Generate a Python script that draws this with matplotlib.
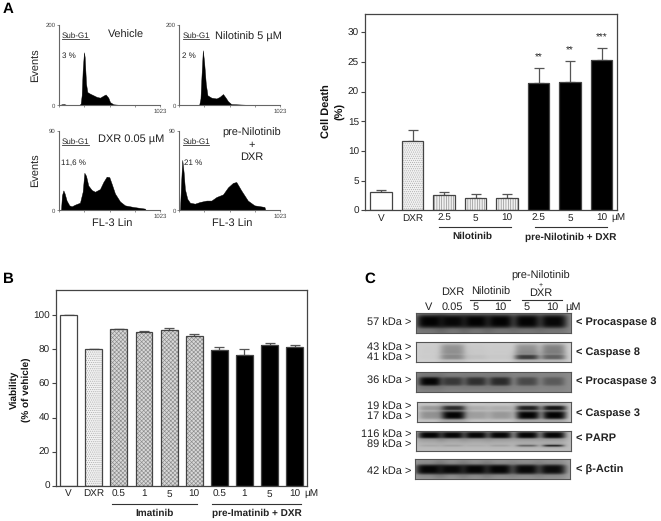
import matplotlib.pyplot as plt
import matplotlib as mpl
import numpy as np

mpl.rcParams['font.family'] = ['Liberation Sans', 'DejaVu Sans']
mpl.rcParams['hatch.linewidth'] = 0.45
mpl.rcParams['text.hinting'] = 'no_hinting'
mpl.rcParams['text.hinting_factor'] = 1

W, H = 661, 521

#-------------------------------------------------------------------------------
#PART 1: Data
#-------------------------------------------------------------------------------

#Flow cytometry histograms (FL-3 channel, events)
veh_ch = [0, 27, 50, 77, 205, 219, 229, 239, 252, 259, 273, 286, 313, 347, 380, 414, 448, 471, 498, 515, 549, 616, 750]
veh_ev = [0, 2.5, 3, 1, 1, 4, 25, 87, 132, 121, 54, 33, 29, 25, 21, 19, 24, 27, 19, 8, 2.5, 1, 0]
nil_ch = [202, 215, 225, 239, 252, 269, 286, 326, 377, 410, 444, 471, 495, 528, 579, 713]
nil_ev = [1, 17, 71, 137, 108, 54, 25, 19, 17, 21, 28, 19, 10, 3, 2.5, 1]
dxr_ch = [20, 30, 44, 57, 77, 104, 128, 162, 212, 239, 256, 273, 296, 330, 363, 414, 448, 481, 508, 532, 565, 616, 666, 750, 868, 878]
dxr_ev = [0, 17, 22.5, 19, 11, 5.6, 4.5, 6.4, 8.6, 21, 42.4, 39, 28, 23, 21, 24, 32, 38, 37.5, 30, 19, 10, 5.6, 3.8, 1.9, 0]
pre_ch = [7, 17, 30, 44, 57, 81, 108, 158, 209, 276, 326, 377, 444, 495, 545, 579, 629, 696, 763, 865, 875]
pre_ev = [0, 28, 57, 43, 24, 13, 8.6, 7.5, 9.4, 11, 11, 15, 18, 26, 31, 32, 22.5, 11, 5.6, 3.8, 0]

#Cell death bars
death_labels = ['V', 'DXR', '2.5', '5', '10', '2.5', '5', '10']
death_vals = [3.0, 11.7, 2.5, 2.1, 2.1, 21.4, 21.6, 25.3]
death_errs = [0.4, 1.8, 0.5, 0.6, 0.6, 2.5, 3.5, 2.0]
death_stars = ['', '', '', '', '', '**', '**', '***']

#Viability bars
viab_labels = ['V', 'DXR', '0.5', '1', '5', '10', '0.5', '1', '5', '10']
viab_vals = [100, 80, 92, 90.2, 91.5, 87.8, 79.7, 76.5, 82.7, 81.2]
viab_errs = [0, 0.4, 0.2, 0.8, 1.3, 1.5, 1.5, 4.0, 0.8, 1.1]

#Western blot band strengths per lane (0 = none, 1 = black)
lanes = [0.09, 0.235, 0.387, 0.543, 0.717, 0.887]
procasp8 = [0.98, 0.95, 0.98, 0.98, 0.97, 0.95]
casp8_up = [0.02, 0.30, 0.04, 0.03, 0.30, 0.38]
casp8_lo = [0.02, 0.30, 0.07, 0.04, 0.70, 0.50]
procasp3 = [0.97, 0.60, 0.66, 0.70, 0.48, 0.36]
casp3_up = [0.22, 0.75, 0.12, 0.12, 0.82, 0.88]
casp3_lo = [0.28, 0.98, 0.22, 0.25, 0.98, 0.98]
parp_up = [0.98, 0.97, 0.97, 0.97, 0.97, 0.97]
parp_lo = [0.08, 0.12, 0.06, 0.12, 0.45, 0.80]
actin = [0.97, 0.95, 0.97, 0.97, 0.95, 0.93]

#-------------------------------------------------------------------------------
#PART 2: Helpers (everything placed in reference pixels)
#-------------------------------------------------------------------------------

fig = plt.figure(figsize=(W / 100, H / 100), dpi=100)
fig.patch.set_facecolor('white')


def px_axes(left, top, right, bottom):
    return fig.add_axes([left / W, 1 - bottom / H, (right - left) / W, (bottom - top) / H])


def txt(x, y, s, size=7.5, weight='normal', ha='center', rot=0, color='#222222'):
    fig.text(x / W, 1 - y / H, s, fontsize=size, fontweight=weight, ha=ha,
             va='center', rotation=rot, color=color, linespacing=1.35)


def hline(x0, x1, y, color='#333333', lw=0.8):
    fig.add_artist(plt.Line2D([x0 / W, x1 / W], [1 - y / H, 1 - y / H], color=color, lw=lw))


def histogram(box, ch, ev, ymax):
    ax = px_axes(*box)
    ax.fill_between(ch, ev, color='black', lw=0.3)
    ax.set_xlim(0, 1023)
    ax.set_ylim(0, ymax)
    ax.patch.set_alpha(0)
    for side in ['top', 'right']:
        ax.spines[side].set_visible(False)
    for side in ['left', 'bottom']:
        ax.spines[side].set_color('#666666')
        ax.spines[side].set_linewidth(0.8)
    ax.set_xticks([0, 256, 512, 768, 1023], ['', '', '', '', '1023'])
    ax.set_yticks([0, ymax], ['0', str(ymax)])
    ax.tick_params(axis='both', length=1.5, width=0.5, color='#666666', labelsize=4.5,
                   labelcolor='#444444', pad=1)
    return ax


def bar_panel(box, labels, vals, errs, styles, ymax, yticks):
    ax = px_axes(*box)
    x = np.arange(len(vals))
    for xi, v, (fc, hatch, hc) in zip(x, vals, styles):
        ax.bar(xi, v, 0.67, color=fc, hatch=hatch, edgecolor=hc, lw=0, zorder=2)
        ax.bar(xi, v, 0.67, color='none', edgecolor='#444444', lw=0.9, zorder=3)
    ax.errorbar(x, vals, yerr=[np.zeros(len(errs)), errs], fmt='none', ecolor='#555555',
                elinewidth=0.9, capsize=3.8, capthick=0.9, zorder=1)
    ax.set_xlim(-0.5, len(vals) - 0.5)
    ax.set_ylim(0, ymax)
    ax.set_xticks(x, labels)
    ax.set_yticks(yticks)
    ax.tick_params(axis='x', length=0, labelsize=7, labelcolor='#222222', pad=2.5)
    ax.tick_params(axis='y', length=3, width=0.8, color='#444444', labelsize=7,
                   labelcolor='#222222', pad=1.5)
    for side in ax.spines:
        ax.spines[side].set_color('#444444')
        ax.spines[side].set_linewidth(0.9)
    return ax


def blot(box, bg, bands):
    ax = px_axes(*box)
    xx, yy = np.meshgrid(np.linspace(0, 1, 310), np.linspace(0, 1, 60))
    img = np.ones_like(xx)
    for cy, h, w, strengths in bands:
        for cx, s in zip(lanes, strengths):
            core = np.exp(-((xx - cx) / w) ** 4 - ((yy - cy) / h) ** 4)
            halo = np.exp(-((xx - cx) / (w * 1.15)) ** 4 - ((yy - cy) / (h * 1.9)) ** 2)
            img *= 1 - s * np.maximum(core, 0.3 * halo)
    ax.imshow(bg * img, cmap='gray', vmin=0, vmax=1, extent=(0, 1, 1, 0), aspect='auto',
              interpolation='bilinear')
    ax.set_xticks([])
    ax.set_yticks([])
    for side in ax.spines:
        ax.spines[side].set_color('#555555')
        ax.spines[side].set_linewidth(0.8)
    return ax


#-------------------------------------------------------------------------------
#PART 3: Panel A
#-------------------------------------------------------------------------------

histogram((59, 25, 160.3, 105.3), veh_ch, veh_ev, 200)
histogram((179.3, 25, 280, 105.3), nil_ch, nil_ev, 200)
histogram((59, 130.7, 160.3, 210.3), dxr_ch, dxr_ev, 90)
histogram((179.3, 130.7, 280, 210.3), pre_ch, pre_ev, 90)

txt(8, 9, 'A', 10.5, 'bold', color='black')
for x0, x1, y in [(62.3, 89, 39.3), (182.7, 209.3, 39.3), (62.3, 89, 145.3), (182.7, 209.3, 145.3)]:
    hline(x0, x1, y, lw=0.6)
    txt((x0 + x1) / 2, y - 3.8, 'Sub-G1', 5.6)
txt(126.3, 35, 'Vehicle', 7.6)
txt(248, 36.7, 'Nilotinib 5 µM', 7.6)
txt(130.7, 139, 'DXR 0.05 µM', 7.6)
txt(251.3, 133.3, 'pre-Nilotinib', 7.6)
txt(251.3, 144.7, '+', 7.6)
txt(251.3, 157.3, 'DXR', 7.6)
txt(68.7, 56, '3 %', 5.8)
txt(189.3, 56, '2 %', 5.8)
txt(73.3, 162.7, '11,6 %', 5.8)
txt(193.3, 162.7, '21 %', 5.8)
txt(112, 224, 'FL-3 Lin', 7.7)
txt(232, 224, 'FL-3 Lin', 7.7)
txt(35, 65, 'Events', 7.7, rot=90)
txt(35, 170, 'Events', 7.7, rot=90)

white = ('white', None, '#444444')
dots = ('#f2f2f2', '........', '#aaaaaa')
vert = ('#f0f0f0', '|||||||', '#888888')
cross = ('#d8d8d8', 'xxxxxxxx', '#8c8c8c')
black = ('black', None, 'black')

death_styles = [white, dots, vert, vert, vert, black, black, black]
ax_death = bar_panel((365.3, 14.3, 617.3, 210.3), death_labels, death_vals, death_errs,
                     death_styles, 33, [0, 5, 10, 15, 20, 25, 30])
for i, star in enumerate(death_stars):
    if star:
        ax_death.text(i, death_vals[i] + death_errs[i] + 1.8, star, ha='center', va='center',
                      fontsize=7, color='#222222')

txt(334, 111, 'Cell Death\n(%)', 7.6, 'bold', rot=90, color='#111111')
txt(618.5, 217.3, 'µM', 7)
hline(439.3, 510.7, 227.3)
hline(535, 606.7, 227.3)
txt(472.7, 236, 'Nilotinib', 7, 'bold')
txt(570.3, 237.3, 'pre-Nilotinib + DXR', 7, 'bold')

#-------------------------------------------------------------------------------
#PART 4: Panel B
#-------------------------------------------------------------------------------

viab_styles = [white, dots, cross, cross, cross, cross, black, black, black, black]
bar_panel((56, 289.7, 307.3, 485.7), viab_labels, viab_vals, viab_errs, viab_styles,
          115, [0, 20, 40, 60, 80, 100])

txt(8, 279, 'B', 10.5, 'bold', color='black')
txt(20.5, 390, 'Viability\n(% of vehicle)', 7.5, 'bold', rot=90, color='#111111')
txt(311.7, 493, 'µM', 7)
hline(112.3, 197.3, 503.7)
hline(212.3, 301, 503.7)
txt(155, 513.7, 'Imatinib', 7, 'bold')
txt(257.3, 513.7, 'pre-Imatinib + DXR', 7, 'bold')

#-------------------------------------------------------------------------------
#PART 5: Panel C
#-------------------------------------------------------------------------------

blot((416, 313.3, 570.7, 332.7), 0.55, [(0.42, 0.36, 0.09, procasp8)])
blot((416, 342.3, 570.7, 362.3), 0.82, [(0.38, 0.30, 0.08, casp8_up), (0.76, 0.13, 0.08, casp8_lo)])
blot((416, 371.7, 570.7, 391.7), 0.55, [(0.47, 0.24, 0.075, procasp3)])
blot((416.7, 401.7, 570.7, 421.7), 0.80, [(0.33, 0.12, 0.078, casp3_up), (0.68, 0.21, 0.08, casp3_lo)])
blot((416, 431, 570.7, 451), 0.74, [(0.24, 0.17, 0.08, parp_up), (0.75, 0.05, 0.07, parp_lo)])
blot((415.3, 459.3, 570, 479.3), 0.66, [(0.52, 0.27, 0.09, actin)])

txt(370, 279, 'C', 10.5, 'bold', color='black')
txt(541, 275.5, 'pre-Nilotinib', 8)
txt(541, 284.8, '+', 5)
txt(541, 293.5, 'DXR', 8)
txt(452.3, 292.3, 'DXR', 8)
txt(490.3, 292.3, 'Nilotinib', 8)
hline(470, 510, 300)
hline(521.7, 561.7, 300)
for x0, lab in [(428.7, 'V'), (452.3, '0.05'), (476, '5'), (500.7, '10'), (526.7, '5'), (552, '10'), (572.7, 'µM')]:
    txt(x0, 306.8, lab, 8)

for y, lab in [(322.7, '57 kDa >'), (348, '43 kDa >'), (358.3, '41 kDa >'), (380.7, '36 kDa >'),
               (407.5, '19 kDa >'), (417.5, '17 kDa >'), (435, '116 kDa >'), (445, '89 kDa >'),
               (471.7, '42 kDa >')]:
    txt(411, y, lab, 7.9, ha='right')

for y, lab in [(322.3, '< Procaspase 8'), (352.3, '< Caspase 8'), (381.3, '< Procaspase 3'),
               (413.3, '< Caspase 3'), (438, '< PARP'), (469.7, '< β-Actin')]:
    txt(575.7, y, lab, 7.8, 'bold', ha='left')

fig.savefig('out.png', dpi=100)
